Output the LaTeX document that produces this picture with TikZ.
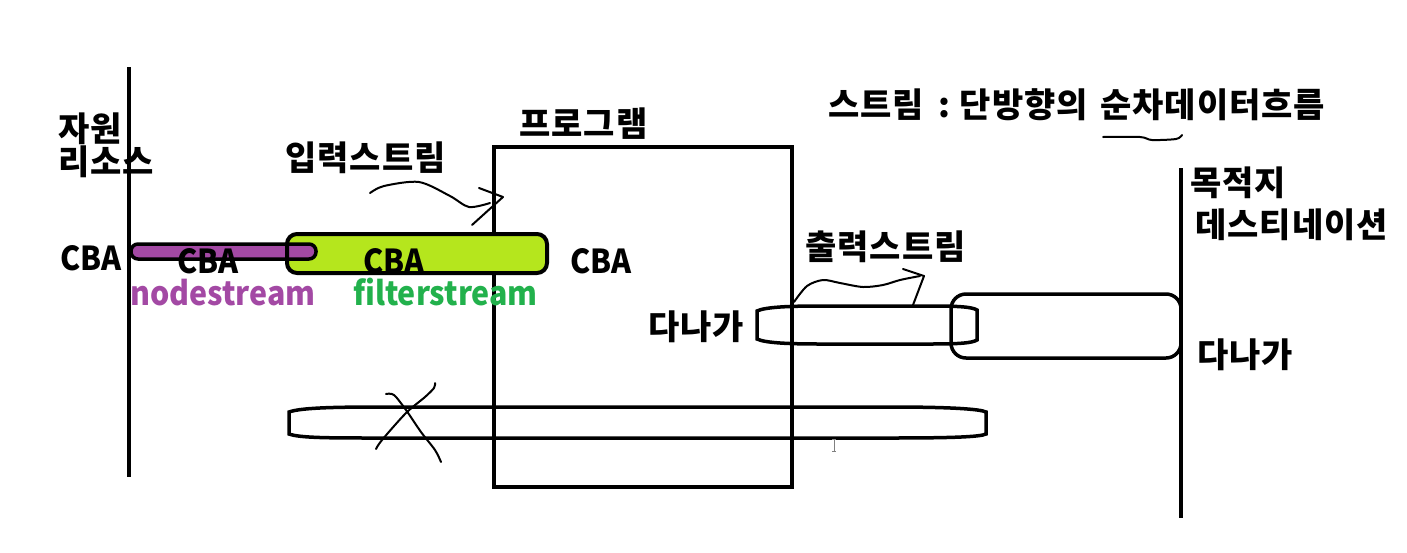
\documentclass[tikz,border=0pt]{standalone}
\usepackage{fontspec}
\setmainfont{Noto Sans CJK KR}[LetterSpace=3]
\newfontfamily\latinf{Noto Sans CJK KR}[FakeStretch=0.92]
\definecolor{pbar}{HTML}{A349A4}
\definecolor{gfill}{HTML}{B5E61D}
\definecolor{gtext}{HTML}{22B14C}
\tikzset{
  thickline/.style={line width=4pt},
  thinline/.style={line width=2pt, line cap=round, line join=round},
  lbl/.style={inner sep=0pt, anchor=west, font=\fontsize{34}{36}\selectfont\bfseries},
  latlbl/.style={inner sep=0pt, anchor=west, font=\latinf\fontsize{33}{36}\selectfont\bfseries},
}
\begin{document}
\begin{tikzpicture}[x=1pt,y=-1pt]
\useasboundingbox (0,0) rectangle (1407,552);
\fill[white] (0,0) rectangle (1407,552);
% vertical lines and program box
\draw[thickline] (129,67) -- (129,477);
\draw[thickline] (1181,168) -- (1181,518);
\draw[thickline] (494,147) rectangle (792,487);
% green filter stream
\fill[gfill, rounded corners=10pt] (287,234) rectangle (547,273);
\draw[line width=3.5pt, fill=pbar, rounded corners=7pt] (131,244) rectangle (316,259);
\draw[thickline, rounded corners=10pt] (287,234) rectangle (547,273);
% output streams
\draw[line width=3.5pt] (757,311) -- (757,339) .. controls (765,343) and (790,344) .. (820,344) -- (930,344) .. controls (960,344) and (972,343) .. (977,340) -- (977,310) .. controls (972,307) and (960,306) .. (930,306) -- (820,306) .. controls (790,306) and (765,307) .. (757,311) -- cycle;
\draw[line width=3.5pt, rounded corners=15pt] (951,294) rectangle (1181,358);
% bottom crossed stream
\draw[line width=3.5pt] (289,412) -- (289,434) .. controls (300,438) and (330,438) .. (380,438) -- (890,438) .. controls (950,438) and (980,437) .. (986,434) -- (986,412) .. controls (980,409) and (950,407) .. (890,407) -- (380,407) .. controls (330,407) and (300,408) .. (289,412) -- cycle;
\draw[thinline] plot[smooth] coordinates {(376,449) (382,440) (406,413) (425,397) (434,388) (435,383)};
\draw[thinline] plot[smooth] coordinates {(386,394) (394,395) (406,410) (421,432) (435,450) (441,462)};
% cursor
\draw[gray, line width=1pt] (834,439) -- (834,451) (832,439) -- (836,439) (832,451) -- (836,451);
% input arrow
\draw[thinline] plot[smooth] coordinates {(370,193) (384,186) (419,182) (450,196) (469,207) (490,203)};
\draw[thinline] (479,188) -- (503,197) -- (472,225);
% output squiggle
\draw[thinline] plot[smooth] coordinates {(794,302) (807,286) (823,280) (840,283) (863,287) (883,285) (900,280) (920,276)};
\draw[thinline] (903,269) -- (924,276) -- (913,305);
% underline squiggle
\draw[thinline] plot[smooth] coordinates {(1103,137) (1140,137) (1152,140) (1176,139) (1182,135)};
% labels
\node[lbl] (src1) at (58,129) {자원};
\node[lbl] (src2) at (58,162) {리소스};
\node[latlbl] (cba1) at (60,258) {CBA};
\node[latlbl] (cba2) at (177,261) {CBA};
\node[latlbl] (cba3) at (363,261) {CBA};
\node[latlbl] (cba4) at (570,261) {CBA};
\node[latlbl, anchor=base west, text=pbar] (ns) at (130,305) {nodestream};
\node[latlbl, anchor=base west, text=gtext] (fs) at (353,305) {filterstream};
\node[lbl] (in) at (285,158) {입력스트림};
\node[lbl] (prog) at (519,124) {프로그램};
\node[lbl] (def) at (828,105) {스트림\hspace{14pt}:\hspace{10pt}단방향의\hspace{12pt}순차데이터흐름};
\node[lbl] (dst1) at (1190,183) {목적지};
\node[lbl] (dst2) at (1195,225) {데스티네이션};
\node[lbl] (out) at (805,247) {출력스트림};
\node[lbl] (dng1) at (648,327) {다나가};
\node[lbl] (dng2) at (1197,355) {다나가};
\end{tikzpicture}
\end{document}
